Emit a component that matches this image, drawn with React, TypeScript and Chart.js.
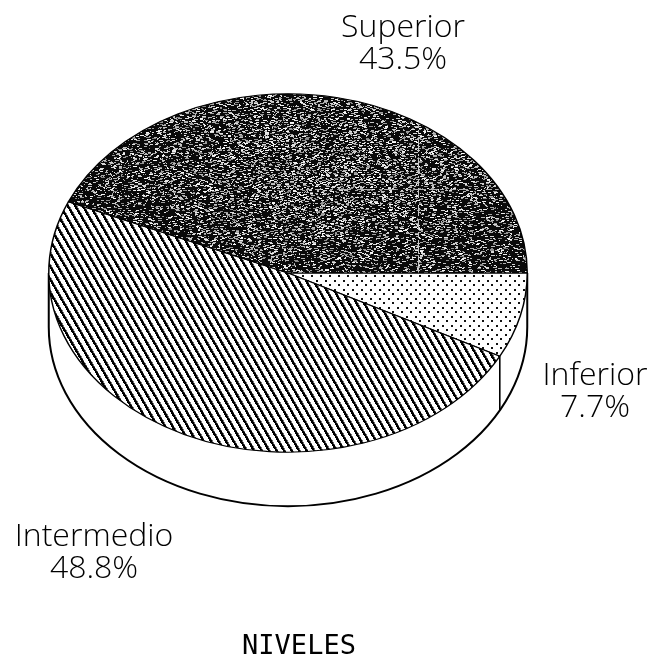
import React, { useEffect, useRef } from "react";
import { Chart, registerables } from "chart.js";

Chart.register(...registerables);

const categories = ["Inferior", "Intermedio", "Superior"];
const shares = [7.7, 48.8, 43.5];
const footer = "NIVELES";

const W = 651;
const H = 664;
const CX = 288;
const CY = 273;
const SQUASH = 179 / 239;
const DEPTH = 54;
const LABEL_FONT = '300 32px "Open Sans"';
const labelSpots: Record<string, [number, number]> = {
  Superior: [403, 28],
  Inferior: [595, 376],
  Intermedio: [94, 537],
};

function makeCanvas(w: number, h: number) {
  const c = document.createElement("canvas");
  c.width = w;
  c.height = h;
  return c;
}

function mix(x: number, y: number) {
  let h = (Math.imul(x, 374761393) + Math.imul(y, 668265263)) | 0;
  h = Math.imul(h ^ (h >>> 13), 1274126177);
  h ^= h >>> 16;
  return (h >>> 0) / 4294967296;
}

function unsquash(p: CanvasPattern) {
  p.setTransform(new DOMMatrix().translate(CX, CY).scale(1, 1 / SQUASH).translate(-CX, -CY));
  return p;
}

function hatch(ctx: CanvasRenderingContext2D) {
  const c = makeCanvas(15, 26);
  const g = c.getContext("2d")!;
  g.fillStyle = "#fff";
  g.fillRect(0, 0, 15, 26);
  const img = g.getImageData(0, 0, 15, 26);
  for (let y = 0; y < 26; y++) {
    for (let x = 0; x < 15; x++) {
      const t = (((x - (y * 7.5) / 13) % 7.5) + 7.5) % 7.5;
      const v = t < 2.4 ? 0 : t < 3.2 ? 110 : 255;
      const i = (y * 15 + x) * 4;
      img.data[i] = img.data[i + 1] = img.data[i + 2] = v;
    }
  }
  g.putImageData(img, 0, 0);
  return unsquash(ctx.createPattern(c, "repeat")!);
}

function dots(ctx: CanvasRenderingContext2D) {
  const c = makeCanvas(9, 9);
  const g = c.getContext("2d")!;
  g.fillStyle = "#fff";
  g.fillRect(0, 0, 9, 9);
  g.fillStyle = "#111";
  g.fillRect(1, 1, 2, 2);
  g.fillRect(5, 5, 2, 2);
  return unsquash(ctx.createPattern(c, "repeat")!);
}

function grain(ctx: CanvasRenderingContext2D) {
  const c = makeCanvas(W, H);
  const g = c.getContext("2d")!;
  g.fillStyle = "#0a0a0a";
  g.fillRect(0, 0, W, H);
  for (let y = 0; y < H; y++) {
    let x = 0;
    while (x < W) {
      const dist = Math.hypot((x - 320) / 260, (y - 170) / 120);
      let p = 0.24 - 0.13 * Math.min(dist, 1);
      if (y % 2 === 0) p *= 1.3;
      if (mix(x, y) < p) {
        const run = 1 + Math.floor(mix(y, x + 7) * 4);
        const v = 130 + Math.floor(mix(x + 3, y + 11) * 125);
        g.fillStyle = `rgb(${v},${v},${v})`;
        g.fillRect(x, y, run, 1);
        x += run + 1;
      } else {
        x += 1;
      }
    }
  }
  // faint scanner creases seen in the print
  for (let y = 0; y < H; y += 2) {
    if (mix(418, y) < 0.75) {
      g.fillStyle = "#c8c8c8";
      g.fillRect(418, y, 1, 2);
    }
  }
  for (let x = 300; x < 500; x += 3) {
    if (mix(x, 189) < 0.6) {
      g.fillStyle = "#b0b0b0";
      g.fillRect(x, 189, 3, 1);
    }
  }
  return unsquash(ctx.createPattern(c, "repeat")!);
}

const tiltPlugin = {
  id: "tilt",
  beforeDatasetsDraw(chart: any) {
    const { ctx } = chart;
    const arc = chart.getDatasetMeta(0).data[0];
    const r = arc.outerRadius;
    ctx.save();
    ctx.beginPath();
    ctx.moveTo(arc.x + r, arc.y);
    ctx.lineTo(arc.x + r, arc.y + DEPTH);
    ctx.ellipse(arc.x, arc.y + DEPTH, r, r * SQUASH, 0, 0, Math.PI);
    ctx.lineTo(arc.x - r, arc.y);
    ctx.lineWidth = 2;
    ctx.strokeStyle = "#000";
    ctx.stroke();
    // side seam under the Inferior / Intermedio boundary
    const a = (shares[0] / 100) * 2 * Math.PI;
    const sx = arc.x + r * Math.cos(a);
    const sy = arc.y + r * SQUASH * Math.sin(a);
    ctx.beginPath();
    ctx.moveTo(sx, sy);
    ctx.lineTo(sx, sy + DEPTH);
    ctx.lineWidth = 1.6;
    ctx.stroke();
    ctx.restore();
    ctx.save();
    ctx.translate(arc.x, arc.y);
    ctx.scale(1, SQUASH);
    ctx.translate(-arc.x, -arc.y);
  },
  afterDatasetsDraw(chart: any) {
    chart.ctx.restore();
  },
  afterDraw(chart: any) {
    const { ctx } = chart;
    ctx.save();
    ctx.fillStyle = "#000";
    ctx.textAlign = "center";
    ctx.textBaseline = "middle";
    ctx.font = LABEL_FONT;
    categories.forEach((name, i) => {
      const [x, y] = labelSpots[name];
      ctx.fillText(name, x, y);
      ctx.fillText(`${shares[i]}%`, x, y + 32);
    });
    ctx.font = '27px "DejaVu Sans Mono"';
    ctx.fillText(footer, 299, 647);
    ctx.restore();
  },
};

export default function App() {
  const ref = useRef<HTMLCanvasElement>(null);
  useEffect(() => {
    document.body.style.margin = "0";
    const canvas = ref.current!;
    const ctx = canvas.getContext("2d")!;
    const chart = new Chart(canvas, {
      type: "pie",
      data: {
        labels: categories,
        datasets: [
          {
            data: shares,
            backgroundColor: [dots(ctx), hatch(ctx), grain(ctx)],
            borderColor: "#000",
            borderWidth: 1.5,
          },
        ],
      },
      options: {
        responsive: false,
        animation: false,
        events: [],
        rotation: 90,
        layout: { padding: { left: 0, right: W - 2 * CX, top: CY - 240, bottom: H - CY - 240 } },
        plugins: { legend: { display: false }, tooltip: { enabled: false } },
      },
      plugins: [tiltPlugin],
    } as any);
    return () => chart.destroy();
  }, []);
  return <canvas ref={ref} width={W} height={H} style={{ display: "block" }} />;
}
